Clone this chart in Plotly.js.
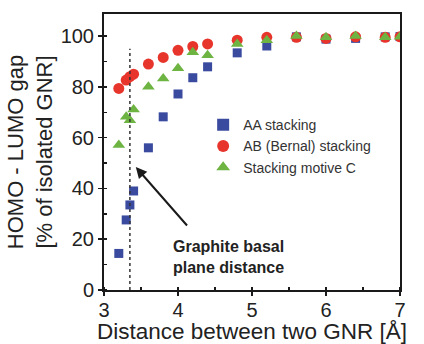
<!DOCTYPE html>
<html>
<head>
<meta charset="utf-8">
<script src="https://cdn.plot.ly/plotly-3.0.1.min.js"></script>
<style>
html,body{margin:0;padding:0;background:#fff;}
#chart{width:424px;height:344px;}
</style>
</head>
<body>
<div id="chart"></div>
<script>
// Distances [Å]
const distAA = [3.2, 3.3, 3.35, 3.4, 3.6, 3.8, 4.0, 4.2, 4.4, 4.8, 5.2, 5.6, 6.0, 6.4, 6.8, 7.0];
const gapAA  = [14.4, 27.6, 33.5, 39.0, 56.0, 68.2, 77.2, 83.6, 87.9, 93.4, 96.1, 99.7, 98.8, 99.1, 99.7, 99.8];

const distAB = [3.2, 3.3, 3.35, 3.4, 3.6, 3.8, 4.0, 4.2, 4.4, 4.8, 5.2, 5.6, 6.0, 6.4, 6.8, 7.0];
const gapAB  = [79.4, 82.7, 84.0, 85.0, 89.0, 91.6, 94.4, 95.9, 96.9, 98.4, 99.5, 99.5, 99.1, 99.7, 99.5, 99.7];

const distC = [3.2, 3.3, 3.35, 3.4, 3.6, 3.8, 4.0, 4.2, 4.4, 4.8, 5.2, 5.6, 6.0, 6.4, 6.8, 7.0];
const gapC  = [57.1, 68.2, 66.9, 71.1, 80.0, 83.3, 87.3, 93.6, 92.5, 96.9, 98.4, 100.0, 99.5, 100.0, 99.5, 99.7];

const seriesNames = ["AA stacking", "AB (Bernal) stacking", "Stacking motive C"];

// Graphite basal plane distance marker line
const basalDistance = [3.35];
const basalLineTop = [95];
// Annotation arrow: head and tail in data units
const arrowHead = [3.43, 48.4];
const arrowTail = [4.14, 24.8];
const annotationText = "Graphite basal<br>plane distance";
const annotationPos = [3.9, 13.0];

const xTickVals = [3, 4, 5, 6, 7];
const yTickVals = [0, 20, 40, 60, 80, 100];

const traces = [
  {x: distAA, y: gapAA, name: seriesNames[0], type: "scatter", mode: "markers",
   marker: {symbol: "square", size: 9, color: "#3a4b9f"}},
  {x: distAB, y: gapAB, name: seriesNames[1], type: "scatter", mode: "markers",
   marker: {symbol: "circle", size: 11, color: "#e8352c"}},
  {x: distC, y: gapC, name: seriesNames[2], type: "scatter", mode: "markers",
   marker: {symbol: "triangle-up", size: 11, color: "#6db443"}}
];

const axisCommon = {
  showgrid: false, zeroline: false,
  showline: true, linecolor: "#1a1a1a", linewidth: 2, mirror: true,
  ticks: "outside", ticklen: 4, tickwidth: 1.5, tickcolor: "#1a1a1a",
  tickfont: {family: "Liberation Sans, Arial, sans-serif", size: 20, color: "#222"}
};

const layout = {
  width: 424, height: 344,
  margin: {l: 104, r: 24, t: 14, b: 54},
  paper_bgcolor: "#fff", plot_bgcolor: "#fff",
  showlegend: true,
  legend: {
    x: 0.335, xanchor: "left", y: 0.655, yanchor: "top",
    bgcolor: "rgba(0,0,0,0)", borderwidth: 0,
    font: {family: "Liberation Sans, Arial, sans-serif", size: 14, color: "#333"},
    tracegroupgap: 0, itemsizing: "constant"
  },
  xaxis: Object.assign({}, axisCommon, {
    range: [3, 7], tickvals: xTickVals, ticklabelstandoff: -3,
    minor: {dtick: 0.5, ticks: "inside", ticklen: 3, tickcolor: "#1a1a1a"},
    title: {text: "Distance between two GNR [Å]", standoff: 0,
            font: {family: "Liberation Sans, Arial, sans-serif", size: 22.5, color: "#222"}}
  }),
  yaxis: Object.assign({}, axisCommon, {
    range: [0, 108.7], tickvals: yTickVals,
    minor: {dtick: 10, ticks: "inside", ticklen: 3, tickcolor: "#1a1a1a"},
    title: {text: "HOMO - LUMO gap<br>[% of isolated GNR]", standoff: 2,
            font: {family: "Liberation Sans, Arial, sans-serif", size: 22, color: "#222"}}
  }),
  shapes: [{
    type: "line", xref: "x", yref: "y",
    x0: basalDistance[0], x1: basalDistance[0], y0: 0, y1: basalLineTop[0],
    line: {color: "#333", width: 1.5, dash: "dot"}
  }],
  annotations: [
    {x: arrowHead[0], y: arrowHead[1], ax: arrowTail[0], ay: arrowTail[1],
     xref: "x", yref: "y", axref: "x", ayref: "y",
     text: "", showarrow: true, arrowhead: 2, arrowsize: 1.1, arrowwidth: 2, arrowcolor: "#1a1a1a"},
    {x: annotationPos[0], y: annotationPos[1], xref: "x", yref: "y",
     text: "<b>" + annotationText + "</b>", showarrow: false, align: "left",
     xanchor: "left", yanchor: "middle",
     font: {family: "Liberation Sans, Arial, sans-serif", size: 16, color: "#222"}}
  ]
};

Plotly.newPlot("chart", traces, layout, {displayModeBar: false, staticPlot: true});
</script>
</body>
</html>
